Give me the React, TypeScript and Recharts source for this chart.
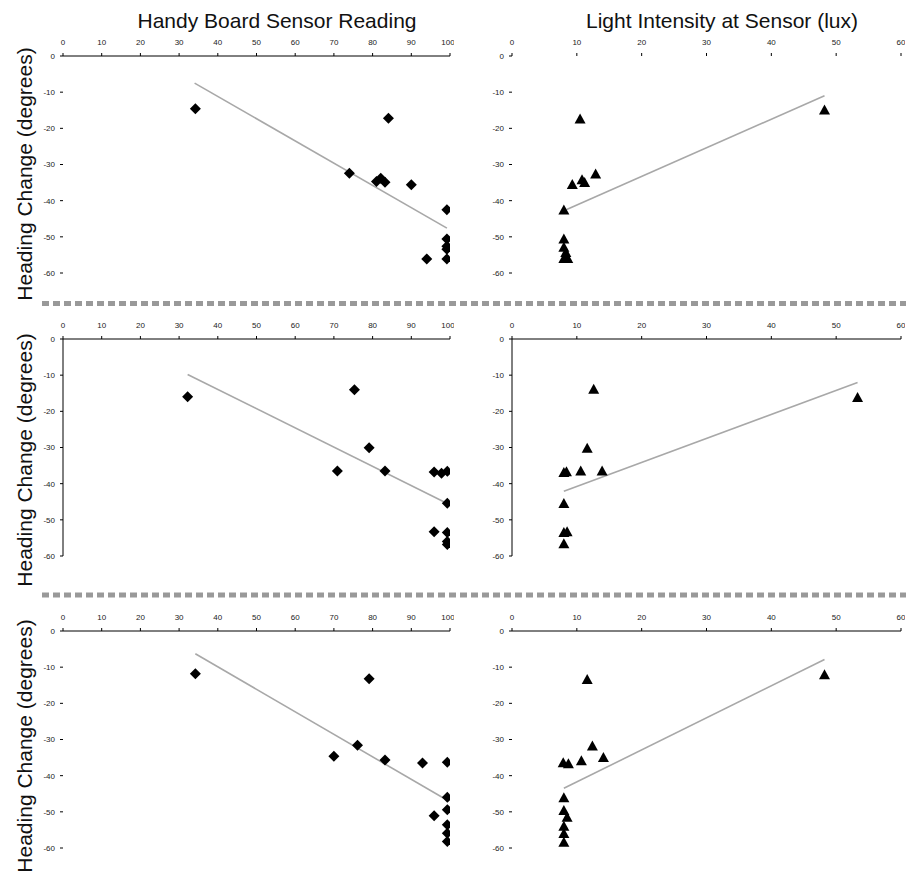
import React from 'react';
import { ScatterChart, Scatter, XAxis, YAxis } from 'recharts';

// x / y readings per panel (row 1..3)
const sensorX1 = [34.2, 74, 84.1, 81, 82.1, 83.2, 90, 99.2, 99.2, 99.2, 99.2, 99.2, 94];
const sensorY1 = [-14.6, -32.4, -17.2, -34.7, -33.8, -34.9, -35.6, -42.5, -50.6, -52.6, -53.4, -56.1, -56.1];
const luxX1 = [10.5, 48.2, 9.3, 10.8, 11.2, 12.9, 8, 8, 8, 8.3, 8, 8.6];
const luxY1 = [-17.4, -14.9, -35.5, -34.2, -35.0, -32.6, -42.6, -50.6, -52.9, -54.3, -56, -56];

const sensorX2 = [32.2, 75.3, 79.1, 70.9, 83.2, 95.9, 97.8, 99.3, 99.3, 95.9, 99.3, 99.3, 99.3];
const sensorY2 = [-16.0, -14.0, -30.1, -36.5, -36.5, -36.8, -37.1, -36.6, -45.4, -53.3, -53.5, -56.0, -56.8];
const luxX2 = [12.6, 53.3, 11.6, 8.0, 8.4, 10.6, 13.9, 8, 8, 8.5, 8];
const luxY2 = [-13.9, -16.2, -30.2, -36.9, -36.7, -36.5, -36.5, -45.5, -53.5, -53.3, -56.6];

const sensorX3 = [34.2, 79.1, 70, 76.1, 83.2, 92.9, 99.3, 99.3, 95.9, 99.3, 99.3, 99.3, 99.3];
const sensorY3 = [-11.8, -13.2, -34.6, -31.6, -35.7, -36.5, -36.3, -46, -51.1, -49.4, -53.6, -55.9, -58.2];
const luxX3 = [11.6, 48.2, 12.4, 14.1, 10.7, 7.9, 8.7, 8, 8, 8.5, 8, 8, 8];
const luxY3 = [-13.4, -12.1, -31.8, -35.0, -35.9, -36.4, -36.7, -46.1, -49.6, -51.5, -54, -56, -58.4];

// trend line end points [x, y]
const sensorTrend1 = [[34, -7.5], [99.2, -47.6]];
const luxTrend1 = [[8, -42.8], [48.2, -11]];
const sensorTrend2 = [[32.2, -9.8], [99.3, -45.5]];
const luxTrend2 = [[8, -42.1], [53.3, -12.0]];
const sensorTrend3 = [[34.2, -6.3], [99.3, -46.8]];
const luxTrend3 = [[8, -43.5], [48.2, -7.9]];

const sensorTicks = [0, 10, 20, 30, 40, 50, 60, 70, 80, 90, 100];
const luxTicks = [0, 10, 20, 30, 40, 50, 60];
const headingTicks = [0, -10, -20, -30, -40, -50, -60];

const FONT = '"Liberation Sans", Arial, sans-serif';

const zip = (xs: number[], ys: number[]) => xs.map((x, i) => ({ x, y: ys[i] }));
const toPts = (t: number[][]) => t.map(([x, y]) => ({ x, y }));

const Diamond = (props: any) => {
  const { cx, cy } = props;
  const r = 5.5;
  return <polygon points={`${cx},${cy - r} ${cx + r},${cy} ${cx},${cy + r} ${cx - r},${cy}`} fill="#000" />;
};

const Triangle = (props: any) => {
  const { cx, cy } = props;
  return <polygon points={`${cx - 5.5},${cy + 4.5} ${cx + 5.5},${cy + 4.5} ${cx},${cy - 5.5}`} fill="#000" />;
};

const NoMark = () => <g />;

interface PanelProps {
  left: number;
  top: number;
  width: number;
  height: number;
  data: { x: number; y: number }[];
  trend: { x: number; y: number }[];
  xMax: number;
  xTicks: number[];
  shape: any;
  xLine: boolean;
  yLine: boolean;
}

const Panel: React.FC<PanelProps> = ({ left, top, width, height, data, trend, xMax, xTicks, shape, xLine, yLine }) => {
  const yw = 45;
  const xh = 25;
  return (
    <div style={{ position: 'absolute', left: left - yw, top: top - xh }}>
      <ScatterChart width={yw + width + 4} height={xh + height + 6} margin={{ top: 0, right: 4, bottom: 6, left: 0 }}>
        <XAxis
          type="number"
          dataKey="x"
          orientation="top"
          domain={[0, xMax]}
          ticks={xTicks}
          height={xh}
          tickSize={3}
          tickMargin={8}
          axisLine={xLine ? { stroke: '#000' } : false}
          tickLine={{ stroke: '#000' }}
          tick={{ fontSize: 8, fill: '#222', fontFamily: FONT }}
          allowDataOverflow
        />
        <YAxis
          type="number"
          dataKey="y"
          domain={[-60, 0]}
          ticks={headingTicks}
          width={yw}
          tickSize={3}
          tickMargin={5}
          axisLine={yLine ? { stroke: '#000' } : false}
          tickLine={{ stroke: '#000' }}
          tick={{ fontSize: 8, fill: '#222', fontFamily: FONT }}
          allowDataOverflow
        />
        <Scatter data={trend} line={{ stroke: '#a8a8a8', strokeWidth: 1.6 }} shape={NoMark} isAnimationActive={false} />
        <Scatter data={data} shape={shape} isAnimationActive={false} />
      </ScatterChart>
    </div>
  );
};

const rowTops = [56, 338.5, 630.5];
const rowLabelCenters = [174, 460, 746];

export default function App() {
  const rows = [
    { s: zip(sensorX1, sensorY1), st: toPts(sensorTrend1), l: zip(luxX1, luxY1), lt: toPts(luxTrend1), lines: [[true, false], [false, false]] },
    { s: zip(sensorX2, sensorY2), st: toPts(sensorTrend2), l: zip(luxX2, luxY2), lt: toPts(luxTrend2), lines: [[true, true], [true, true]] },
    { s: zip(sensorX3, sensorY3), st: toPts(sensorTrend3), l: zip(luxX3, luxY3), lt: toPts(luxTrend3), lines: [[true, false], [true, false]] },
  ];
  return (
    <div style={{ position: 'absolute', left: 0, top: 0, width: 906, height: 874, overflow: 'hidden', background: '#fff' }}>
      {rows.map((r, i) => (
        <React.Fragment key={i}>
          <Panel left={63} top={rowTops[i]} width={387} height={217} data={r.s} trend={r.st} xMax={100} xTicks={sensorTicks} shape={Diamond} xLine={r.lines[0][0]} yLine={r.lines[0][1]} />
          <Panel left={512} top={rowTops[i]} width={389} height={217} data={r.l} trend={r.lt} xMax={60} xTicks={luxTicks} shape={Triangle} xLine={r.lines[1][0]} yLine={r.lines[1][1]} />
        </React.Fragment>
      ))}
      <svg width={906} height={874} style={{ position: 'absolute', left: 0, top: 0, pointerEvents: 'none' }}>
        <text x={277} y={28} textAnchor="middle" fontSize={21} fontFamily={FONT} fill="#111">Handy Board Sensor Reading</text>
        <text x={722} y={28} textAnchor="middle" fontSize={21} fontFamily={FONT} fill="#111">Light Intensity at Sensor (lux)</text>
        {rowLabelCenters.map((cy, i) => (
          <text key={i} x={32} y={cy} transform={`rotate(-90, 32, ${cy})`} textAnchor="middle" fontSize={21} fontFamily={FONT} fill="#111">
            Heading Change (degrees)
          </text>
        ))}
        <line x1={42} y1={303.5} x2={906} y2={303.5} stroke="#999" strokeWidth={5} strokeDasharray="7 4" />
        <line x1={42} y1={595} x2={906} y2={595} stroke="#999" strokeWidth={5} strokeDasharray="7 4" />
      </svg>
    </div>
  );
}
